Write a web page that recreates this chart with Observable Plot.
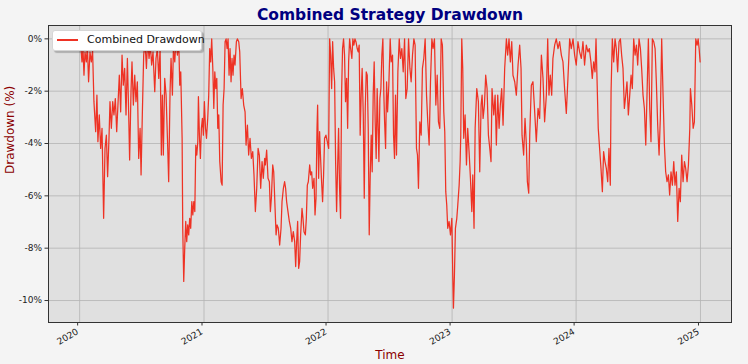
<!DOCTYPE html>
<html>
<head>
<meta charset="utf-8">
<script src="https://cdn.jsdelivr.net/npm/d3@7"></script>
<script src="https://cdn.jsdelivr.net/npm/@observablehq/plot@0.6"></script>
<style>
  html, body { margin: 0; padding: 0; background: #f4f4f4; }
  #wrap { position: relative; width: 748px; height: 364px; font-family: "DejaVu Sans", sans-serif; }
  #legend { position: absolute; left: 52px; top: 30px; width: 148px; height: 19px; background: #fff;
            border: 1px solid #d6d6d6; border-radius: 3px; box-shadow: 2px 2px 1px rgba(0,0,0,0.22);
            font-size: 11px; color: #111; }
  #legend .sw { position: absolute; left: 4px; top: 8px; width: 21px; height: 1.5px; background: #ee3224; }
  #legend .lb { position: absolute; left: 34px; top: 2px; white-space: nowrap; }
</style>
</head>
<body>
<div id="wrap">
  <div id="chart"></div>
  <div id="legend"><div class="sw"></div><div class="lb"></div></div>
</div>
<script>
// Decimal-year time stamps with drawdown in percent
const points2020 = [[2020.005,0],[2020.019,-0.88],[2020.027,-0.37],[2020.035,-1.39],[2020.043,-0.50],[2020.054,-0.88],[2020.062,-0.24],[2020.072,-1.64],[2020.083,-0.50],[2020.094,-0.88],[2020.104,-0.43],[2020.115,-2.40],[2020.129,-3.55],[2020.139,-2.15],[2020.147,-3.93],[2020.158,-2.91],[2020.169,-4.19],[2020.180,-3.42],[2020.193,-6.86],[2020.204,-4.19],[2020.215,-3.68],[2020.225,-5.27],[2020.236,-3.80],[2020.244,-2.40],[2020.255,-3.42],[2020.266,-2.40],[2020.276,-2.91],[2020.287,-2.28],[2020.298,-3.55],[2020.308,-2.53],[2020.319,-1.39],[2020.330,-2.79],[2020.341,-0.62],[2020.351,-1.77],[2020.362,-1.13],[2020.373,-2.91],[2020.384,-0.75],[2020.394,-2.79],[2020.402,-4.63],[2020.413,-2.02],[2020.421,-0.88],[2020.432,-2.53],[2020.443,-1.39],[2020.453,-2.40],[2020.464,-1.64],[2020.475,-4.57],[2020.486,-3.42],[2020.494,-5.20],[2020.504,-2.91],[2020.515,-0.62],[2020.526,-0.11],[2020.537,-1.13],[2020.547,0],[2020.558,-0.75],[2020.569,-0.24],[2020.579,-1.00],[2020.590,-0.50],[2020.604,-2.02],[2020.614,-0.75],[2020.625,-0.37],
[2020.636,-1.51],[2020.647,-0.37],[2020.657,-4.44],[2020.665,-2.15],[2020.673,-4.44],[2020.684,-1.51],[2020.695,-2.15],[2020.706,-3.80],[2020.716,-5.46],[2020.727,-2.02],[2020.735,-0.75],[2020.746,-2.15],[2020.754,-0.37],[2020.765,-0.88],[2020.775,0],[2020.786,-0.62],[2020.797,-0.11],[2020.805,-1.77],[2020.813,-1.26],[2020.824,-3.80],[2020.829,-7.24],[2020.837,-9.27],[2020.845,-8.00],[2020.853,-6.98],[2020.861,-7.75],[2020.869,-7.11],[2020.877,-7.49],[2020.885,-6.86],[2020.893,-7.24],[2020.902,-6.22],[2020.910,-6.73],[2020.918,-6.22],[2020.926,-6.60],[2020.934,-4.06],[2020.942,-4.44],[2020.950,-3.93],[2020.955,-2.21],[2020.963,-3.68],[2020.971,-4.57],[2020.979,-3.42],[2020.987,-3.04],[2020.995,-3.68]];

const points2021 = [[2021.003,-2.40],[2021.012,-3.42],[2021.020,-3.80],[2021.030,-3.04],[2021.038,-2.15],[2021.046,-0.37],[2021.054,-0.88],[2021.062,0],[2021.071,-1.13],[2021.079,-2.66],[2021.087,-1.26],[2021.095,-1.90],[2021.103,-1.51],[2021.111,-3.42],[2021.119,-2.91],[2021.127,-4.69],[2021.138,-5.46],[2021.146,-5.59],[2021.154,-2.53],[2021.162,-1.90],[2021.170,-0.11],[2021.178,0],[2021.186,-0.37],[2021.194,0],[2021.202,-1.39],[2021.210,-0.37],[2021.218,-1.64],[2021.226,-0.75],[2021.234,-1.39],[2021.242,-0.62],[2021.250,-1.00],[2021.261,-0.11],[2021.269,0],[2021.280,-0.11],[2021.288,-0.50],[2021.299,-2.28],[2021.309,-1.90],[2021.320,-2.53],[2021.331,-2.79],[2021.339,-4.06],[2021.350,-3.30],[2021.360,-4.44],[2021.371,-3.80],[2021.382,-4.57],[2021.393,-4.31],[2021.403,-5.20],[2021.414,-6.60],[2021.425,-5.71],[2021.436,-4.19],[2021.446,-4.44],[2021.457,-5.71],[2021.468,-4.69],[2021.478,-5.33],[2021.489,-4.57],
[2021.495,-4.82],[2021.505,-4.25],[2021.516,-5.33],[2021.527,-5.46],[2021.535,-6.60],[2021.543,-6.09],[2021.554,-4.82],[2021.562,-5.08],[2021.573,-6.48],[2021.581,-7.49],[2021.589,-7.11],[2021.599,-7.24],[2021.610,-7.88],[2021.621,-7.24],[2021.629,-6.22],[2021.640,-5.71],[2021.650,-5.46],[2021.658,-5.71],[2021.666,-6.22],[2021.677,-6.60],[2021.688,-6.98],[2021.699,-7.24],[2021.709,-7.75],[2021.720,-7.37],[2021.731,-7.75],[2021.739,-8.70],[2021.747,-7.75],[2021.755,-6.98],[2021.763,-8.77],[2021.771,-8.51],[2021.779,-7.49],[2021.790,-6.48],[2021.798,-6.86],[2021.806,-7.37],[2021.817,-7.49],[2021.825,-6.86],[2021.833,-5.59],[2021.841,-5.46],[2021.852,-4.82],[2021.860,-5.20],[2021.868,-5.08],[2021.876,-5.71],[2021.887,-5.33],[2021.895,-6.73],[2021.903,-6.09],[2021.911,-3.42],[2021.916,-2.53],[2021.924,-5.33],[2021.932,-3.55],[2021.940,-4.57],[2021.948,-5.46],[2021.956,-6.22],[2021.964,-5.20],[2021.972,-3.80],[2021.983,-3.68],[2021.994,-3.93]];

const points2022 = [[2022.005,-4.19],[2022.013,0],[2022.021,-0.62],[2022.029,-1.90],[2022.037,-0.11],[2022.045,-1.13],[2022.053,-1.64],[2022.061,-4.69],[2022.069,-6.60],[2022.077,-4.95],[2022.085,-3.42],[2022.093,-5.71],[2022.101,-6.86],[2022.109,-2.15],[2022.117,-0.37],[2022.125,0],[2022.133,-0.62],[2022.141,-2.40],[2022.150,-1.51],[2022.158,-3.42],[2022.166,-0.88],[2022.174,0],[2022.182,-0.37],[2022.192,-0.75],[2022.200,0],[2022.208,-0.24],[2022.217,0],[2022.225,-0.11],[2022.235,-0.37],[2022.243,-0.50],[2022.251,-0.24],[2022.259,-3.68],[2022.267,-2.15],[2022.275,-1.13],[2022.284,-2.91],[2022.292,-6.09],[2022.300,-2.66],[2022.308,-1.26],[2022.316,-1.39],[2022.324,-3.42],[2022.332,-7.49],[2022.340,-5.20],[2022.348,-3.68],[2022.356,-5.08],[2022.364,-2.15],
[2022.372,-0.88],[2022.380,-3.17],[2022.388,-4.57],[2022.396,-1.90],[2022.405,-3.68],[2022.410,-4.69],[2022.418,-2.28],[2022.426,-1.90],[2022.434,-0.62],[2022.442,0],[2022.450,-2.15],[2022.456,-3.17],[2022.464,-4.19],[2022.472,-1.64],[2022.480,-2.79],[2022.490,-1.77],[2022.501,0],[2022.509,-0.88],[2022.520,-0.62],[2022.528,-3.68],[2022.536,-4.57],[2022.544,-2.15],[2022.552,-4.44],[2022.563,-1.26],[2022.574,0],[2022.584,-0.75],[2022.595,-0.37],[2022.606,-1.26],[2022.617,0],[2022.627,-2.28],[2022.638,-1.90],[2022.649,0],[2022.660,-1.13],[2022.670,-1.64],[2022.681,-0.62],[2022.692,0],[2022.702,-0.24],[2022.713,-4.19],[2022.721,-4.44],[2022.729,-5.71],[2022.740,-3.17],[2022.751,-3.68],[2022.761,-1.13],[2022.772,-0.75],[2022.783,0],[2022.794,-2.15],[2022.804,-3.17],[2022.815,-4.06],[2022.826,-1.64],[2022.837,0],[2022.847,-0.37],[2022.858,0],[2022.869,-2.53],[2022.880,-1.39],[2022.890,-3.17],[2022.901,-3.42],[2022.912,0],[2022.922,-0.24],[2022.933,-2.79],[2022.941,-3.55],[2022.949,-5.84],[2022.957,-6.35],[2022.965,-7.24],[2022.976,-6.98],[2022.987,-7.49],[2022.998,-6.86]];

const points2023 = [[2023.006,-9.15],[2023.011,-10.29],[2023.019,-9.02],[2023.027,-7.24],[2023.038,-6.86],[2023.046,-6.35],[2023.057,-5.59],[2023.065,-4.69],[2023.070,-3.68],[2023.078,0],[2023.086,-1.13],[2023.094,-3.80],[2023.105,-2.91],[2023.116,-4.82],[2023.126,-3.42],[2023.137,-4.31],[2023.148,-5.33],[2023.159,-6.60],[2023.167,-5.20],[2023.177,-7.24],[2023.186,-3.42],[2023.199,-1.90],[2023.212,-2.40],[2023.223,-5.08],[2023.234,-2.53],
[2023.242,-2.15],[2023.250,-3.04],[2023.261,-2.53],[2023.271,-1.39],[2023.282,-1.90],[2023.293,-3.68],[2023.304,-4.19],[2023.314,-4.69],[2023.322,-1.90],[2023.336,-2.91],[2023.347,-2.15],[2023.357,-4.06],[2023.368,-2.15],[2023.379,-3.42],[2023.389,-2.53],[2023.400,-1.90],[2023.411,-3.30],[2023.424,-1.13],[2023.438,0],[2023.448,-0.62],[2023.459,0],[2023.470,-0.88],[2023.481,-0.11],[2023.491,-1.39],[2023.505,-1.64],[2023.518,-2.15],[2023.532,-1.00],[2023.545,-0.24],[2023.556,-1.13],[2023.564,-3.68],[2023.577,-4.44],[2023.588,-3.04],[2023.599,-4.06],[2023.607,-5.46],[2023.618,-5.90],[2023.626,-3.68],[2023.639,-1.77],[2023.652,-1.64],[2023.666,-2.79],[2023.679,-3.93],[2023.693,-2.66],[2023.706,-3.04],[2023.720,-0.62],[2023.733,-1.51],[2023.746,-3.17],[2023.760,-2.15],[2023.771,0],[2023.781,-2.15],[2023.792,-1.39],[2023.803,-2.15],[2023.813,-0.75],[2023.827,-0.24],[2023.840,0],[2023.854,-0.37],[2023.867,-0.11],[2023.881,-0.62],[2023.894,-0.88],[2023.907,-1.90],[2023.921,-2.85],[2023.934,-1.51],[2023.948,0],[2023.961,-0.37],[2023.975,0],[2023.988,-0.62]];

const points2024 = [[2024.001,-1.00],[2024.015,-0.11],[2024.028,-0.50],[2024.042,-0.75],[2024.055,-0.11],[2024.068,-1.00],[2024.082,-0.24],[2024.095,-0.50],
[2024.106,-0.37],[2024.119,-0.88],[2024.130,-1.51],[2024.141,-0.88],[2024.152,-1.26],[2024.160,0],[2024.168,-1.51],[2024.178,-3.42],[2024.189,-4.19],[2024.200,-4.95],[2024.211,-5.84],[2024.221,-4.31],[2024.232,-4.69],[2024.243,-4.95],[2024.254,-5.46],[2024.264,-4.19],[2024.275,-5.59],[2024.281,-2.02],[2024.291,0],[2024.302,-0.88],[2024.313,0],[2024.323,-0.37],[2024.334,-1.26],[2024.345,-0.11],[2024.356,0],[2024.366,-0.62],[2024.377,-1.13],[2024.388,-2.66],[2024.399,-2.15],[2024.409,-1.64],[2024.420,-2.91],[2024.431,-2.15],[2024.442,-1.39],[2024.452,-1.90],[2024.463,0],[2024.474,-0.62],[2024.485,-0.24],[2024.495,-1.00],[2024.506,0],[2024.517,-0.37],[2024.527,-1.13],[2024.538,-2.15],[2024.549,-2.66],[2024.560,-4.06],[2024.570,-2.15],[2024.581,0],[2024.592,-2.66],[2024.602,-3.93],[2024.613,0],[2024.624,-0.11],[2024.635,-0.37],[2024.645,-1.64],[2024.656,-3.30],[2024.667,-4.44],[2024.677,-3.04],[2024.688,0],[2024.699,-2.15],[2024.710,-4.06],[2024.720,-5.08],[2024.731,-5.46],[2024.742,-5.20],[2024.752,-5.97],[2024.763,-5.08],[2024.774,-5.59],[2024.785,-4.69],[2024.795,-5.59],[2024.806,-5.08],[2024.817,-6.98],[2024.828,-5.71],[2024.838,-6.22],[2024.849,-4.44],[2024.860,-5.46],[2024.871,-4.69],[2024.881,-4.95],[2024.892,-5.46],[2024.903,-4.82],[2024.914,-3.42],[2024.919,-1.90],[2024.930,-2.53],[2024.941,-3.42],[2024.951,-3.17],[2024.962,0],[2024.973,-0.24],[2024.981,0],[2024.989,-0.37],[2024.997,-0.88]];

const yTickValues = [0, -2, -4, -6, -8, -10];
const xTickYears = [2020, 2021, 2022, 2023, 2024, 2025];
const titleText = "Combined Strategy Drawdown";
const xLabel = "Time";
const yLabel = "Drawdown (%)";
const seriesName = "Combined Drawdown";

function fromDecimalYear(t) {
  const y = Math.floor(t);
  const a = Date.UTC(y, 0, 1), b = Date.UTC(y + 1, 0, 1);
  return new Date(a + (t - y) * (b - a));
}

const data = [...points2020, ...points2021, ...points2022, ...points2023, ...points2024]
  .map(([t, v]) => ({date: fromDecimalYear(t), value: v}));
const xTicks = xTickYears.map(y => new Date(Date.UTC(y, 0, 1)));

const lineColor = "#ee3224";
document.querySelector("#legend .lb").textContent = seriesName;

const chart = Plot.plot({
  width: 748,
  height: 364,
  marginTop: 25,
  marginBottom: 42,
  marginLeft: 48,
  marginRight: 17,
  style: {background: "transparent", fontFamily: "DejaVu Sans, sans-serif", fontSize: "9px", color: "#222", overflow: "visible"},
  x: {type: "utc", domain: [fromDecimalYear(2019.749), fromDecimalYear(2025.250)]},
  y: {domain: [-10.84, 0.51]},
  marks: [
    Plot.frame({fill: "#e0e0e0", stroke: null}),
    Plot.gridY(yTickValues, {stroke: "#b4b4b4", strokeOpacity: 1, strokeWidth: 0.8}),
    Plot.gridX(xTicks, {stroke: "#b4b4b4", strokeOpacity: 1, strokeWidth: 0.8}),
    Plot.line(data, {x: "date", y: "value", stroke: lineColor, strokeWidth: 1.25}),
    Plot.frame({stroke: "#333", strokeWidth: 1}),
    Plot.axisY(yTickValues, {tickFormat: d => d + "%", tickSize: 3.5, tickPadding: 3, label: null, fontSize: 9, stroke: "#333"}),
    Plot.axisX(xTicks, {tickFormat: d => String(d.getUTCFullYear()), tickRotate: -30, tickSize: 3.5, tickPadding: 5, dx: -2, label: null, fontSize: 9, stroke: "#333"}),
    Plot.text([yLabel], {frameAnchor: "left", dx: -38, rotate: -90, lineAnchor: "middle", fill: "#8b0000", fontSize: 12}),
    Plot.text([xLabel], {frameAnchor: "bottom", dy: 33, lineAnchor: "middle", fill: "#8b0000", fontSize: 12}),
    Plot.text([titleText], {frameAnchor: "top", dy: -10, lineAnchor: "middle", fill: "#000080", fontSize: 15.5, fontWeight: "bold"})
  ]
});
document.getElementById("chart").appendChild(chart);
</script>
</body>
</html>
